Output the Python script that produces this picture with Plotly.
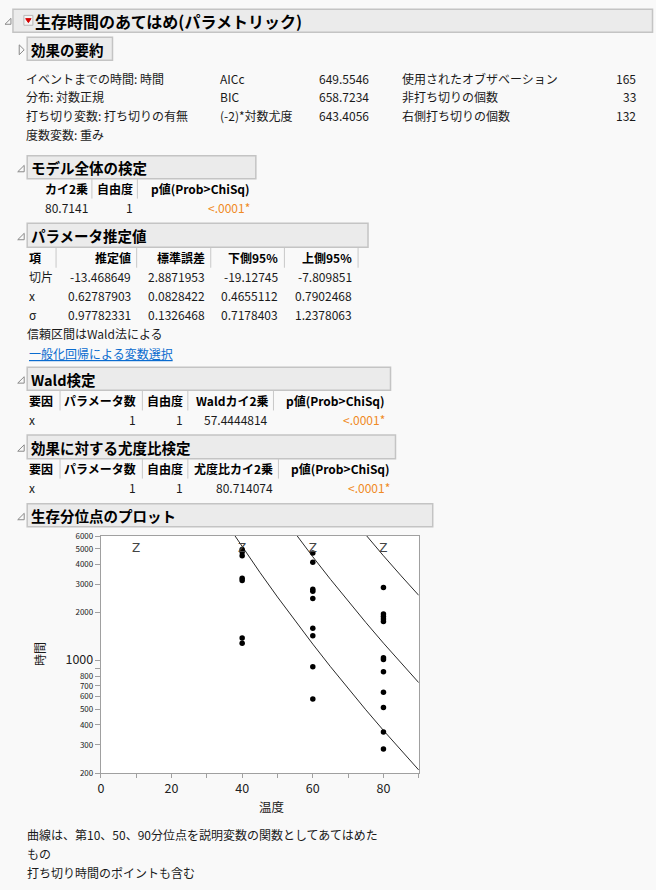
import math
import plotly.graph_objects as go

W, H = 656, 890
FONT = "Noto Sans CJK JP"

# ---- 効果の要約
summary_labels = ["イベントまでの時間: 時間", "分布: 対数正規", "打ち切り変数: 打ち切りの有無", "度数変数: 重み"]
fit_stat_names = ["AICc", "BIC", "(-2)*対数尤度"]
fit_stat_values = ["649.5546", "658.7234", "643.4056"]
count_names = ["使用されたオブザベーション", "非打ち切りの個数", "右側打ち切りの個数"]
count_values = ["165", "33", "132"]

# ---- モデル全体の検定
whole_cols = ["カイ2乗", "自由度", "p値(Prob>ChiSq)"]
whole_row = ["80.7141", "1", "<.0001*"]

# ---- パラメータ推定値
param_cols = ["項", "推定値", "標準誤差", "下側95%", "上側95%"]
param_terms = ["切片", "x", "σ"]
param_est = ["-13.468649", "0.62787903", "0.97782331"]
param_se = ["2.8871953", "0.0828422", "0.1326468"]
param_lo = ["-19.12745", "0.4655112", "0.7178403"]
param_hi = ["-7.809851", "0.7902468", "1.2378063"]

# ---- Wald検定 / 尤度比検定
wald_cols = ["要因", "パラメータ数", "自由度", "Waldカイ2乗", "p値(Prob>ChiSq)"]
wald_row = ["x", "1", "1", "57.4444814", "<.0001*"]
lr_cols = ["要因", "パラメータ数", "自由度", "尤度比カイ2乗", "p値(Prob>ChiSq)"]
lr_row = ["x", "1", "1", "80.714074", "<.0001*"]

# ---- 生存分位点のプロット
obs_temp = [40, 40, 40, 40, 40, 40, 40,
            60, 60, 60, 60, 60, 60, 60, 60, 60,
            80, 80, 80, 80, 80, 80, 80, 80, 80, 80, 80, 80]
obs_time = [4950, 4780, 4520, 3280, 3170, 1390, 1290,
            4700, 4120, 2800, 2720, 2450, 1600, 1435, 920, 580,
            2870, 1960, 1890, 1825, 1760, 1045, 1020, 855, 637, 513, 361, 283]
cens_temp = [10, 40, 60, 80]
cens_time = [5000, 5000, 5000, 5000]

q10_temp = [35, 40, 45, 50, 55, 60, 65, 70, 75, 80, 85, 90]
q10_time = [7505, 5145, 3569, 2504, 1776, 1273, 921, 673, 496, 369, 277, 209]
q50_temp = [50, 55, 60, 65, 70, 75, 80, 85, 90]
q50_time = [8768, 6219, 4456, 3225, 2356, 1737, 1291, 968, 732]
q90_temp = [70, 75, 80, 85, 90]
q90_time = [8249, 6081, 4522, 3390, 2562]

y_tick_vals = [200, 300, 400, 500, 600, 700, 800, 900, 1000, 2000, 3000, 4000, 5000, 6000]
x_tick_vals = [0, 10, 20, 30, 40, 50, 60, 70, 80, 90]

footnotes = ["曲線は、第10、50、90分位点を説明変数の関数としてあてはめた", "もの", "打ち切り時間のポイントも含む"]


def X(px):
    return px / W


def Y(py):
    return 1 - py / H


annotations = []
shapes = []


def text(x, y, s, size=12, anchor="left", bold=False, color="#1a1a1a"):
    if bold:
        s = "<b>" + s + "</b>"
    annotations.append(dict(x=X(x), y=Y(y), xref="paper", yref="paper", text=s,
                            showarrow=False, xanchor=anchor, yanchor="middle",
                            borderpad=0, font=dict(size=size, color=color, family=FONT)))


def rect(x0, y0, x1, y1, fill, line, lw=1.5):
    shapes.append(dict(type="rect", xref="paper", yref="paper",
                       x0=X(x0), y0=Y(y1), x1=X(x1), y1=Y(y0),
                       fillcolor=fill, line=dict(color=line, width=lw)))


def poly(pts, line, fill=None):
    d = "M " + " L ".join(f"{X(a):.5f},{Y(b):.5f}" for a, b in pts) + " Z"
    shapes.append(dict(type="path", xref="paper", yref="paper", path=d,
                       line=dict(color=line, width=1), fillcolor=fill))


def vline(x, y0, y1, color="#c8c8c8"):
    shapes.append(dict(type="line", xref="paper", yref="paper",
                       x0=X(x), x1=X(x), y0=Y(y0), y1=Y(y1),
                       line=dict(color=color, width=1)))


def section(x0, y0, x1, y1, title, size=14.5, open_tri=True):
    rect(x0, y0, x1, y1, "#ebebeb", "#c4c4c4")
    text(x0 + 2.5, (y0 + y1) / 2 + 0.5, title, size=size, bold=True, color="#000")
    cy = (y0 + y1) / 2 + 1
    if open_tri:
        poly([(x0 - 9.5, cy + 3.5), (x0 - 3, cy + 3.5), (x0 - 3, cy - 3)], "#8a8a8a")
    else:
        poly([(x0 - 8, cy - 5), (x0 - 3, cy), (x0 - 8, cy + 5)], "#8a8a8a")


def table(cols, xs, anchors, seps, y_head, rows, y_rows, colors=None):
    for c, x, a in zip(cols, xs, anchors):
        text(x, y_head, c, bold=True, color="#000")
        annotations[-1]["xanchor"] = a
    for sx in seps:
        vline(sx, y_head - 10, y_head + 10)
    for r, yy in zip(rows, y_rows):
        for i, (v, x, a) in enumerate(zip(r, xs, anchors)):
            col = colors[i] if colors else "#1a1a1a"
            text(x, yy, v, anchor=a, color=col)


ORANGE = "#f08a24"

# main header
rect(10, 3.3, 652.5, 26.7, "#ebebeb", "#c4c4c4")
text(31.5, 15.5, "生存時間のあてはめ(パラメトリック)", size=16, bold=True, color="#000")
poly([(2, 18.5), (8, 18.5), (8, 12.5)], "#8a8a8a")
rect(21, 9.5, 30, 19.5, "#f4f4f4", "#b8b8b8", lw=1)
poly([(22.8, 12.8), (28.2, 12.8), (25.5, 16.8)], "#d40000", "#d40000")

# 効果の要約
section(24.3, 31.7, 110, 55, "効果の要約", open_tri=False)
sum_y = [73, 92, 111, 130]
for s, yy in zip(summary_labels, sum_y):
    text(22, yy, s)
for a, b, yy in zip(fit_stat_names, fit_stat_values, sum_y):
    text(217, yy, a)
    text(369, yy, b, anchor="right")
for a, b, yy in zip(count_names, count_values, sum_y):
    text(400, yy, a)
    text(637, yy, b, anchor="right")

# モデル全体の検定
section(24.3, 151.7, 254, 175, "モデル全体の検定")
table(whole_cols, [86, 131.5, 249.5], ["right", "right", "right"], [89.3, 135],
      185, [whole_row], [204.5], colors=["#1a1a1a", "#1a1a1a", ORANGE])

# パラメータ推定値
section(24.3, 220, 366.7, 244.3, "パラメータ推定値")
param_rows = [list(r) for r in zip(param_terms, param_est, param_se, param_lo, param_hi)]
table(param_cols, [25.5, 130, 204, 277.7, 351.7], ["left", "right", "right", "right", "right"],
      [53.3, 134.3, 208.7, 282.7, 356.7], 255, param_rows, [274, 293, 312])
text(23.3, 331.7, "信頼区間はWald法による")
text(25, 352.3, "<u>一般化回帰による変数選択</u>", color="#0a6ccf")

# Wald検定
section(24.3, 365.7, 389.3, 389, "Wald検定")
table(wald_cols, [25.5, 135, 181.7, 267.7, 385], ["left", "right", "right", "right", "right"],
      [57.3, 140, 185.7, 271.7], 399.5, [wald_row], [418.5],
      colors=["#1a1a1a"] * 4 + [ORANGE])

# 効果に対する尤度比検定
section(24.3, 434.3, 394.3, 458.3, "効果に対する尤度比検定")
table(lr_cols, [25.5, 135, 181.7, 272.3, 390], ["left", "right", "right", "right", "right"],
      [57.3, 140, 185.7, 276.7], 468.5, [lr_row], [487.7],
      colors=["#1a1a1a"] * 4 + [ORANGE])

# 生存分位点のプロット
section(24.3, 504, 431.7, 527.3, "生存分位点のプロット")
text(256, 810.7, "温度", size=12.5)
annotations.append(dict(x=X(36.7), y=Y(656.7), xref="paper", yref="paper", text="時間",
                        textangle=-90, showarrow=False, xanchor="center", yanchor="middle",
                        font=dict(size=12, color="#1a1a1a", family=FONT)))

for i, s in enumerate(footnotes):
    text(23.3, 839.3 + 19 * i, s)

fig = go.Figure()
for qt, qy in [(q10_temp, q10_time), (q50_temp, q50_time), (q90_temp, q90_time)]:
    fig.add_trace(go.Scatter(x=qt, y=qy, mode="lines", line=dict(color="#2a2a2a", width=1),
                             hoverinfo="skip", showlegend=False))
fig.add_trace(go.Scatter(x=obs_temp, y=obs_time, mode="markers",
                         marker=dict(color="#000", size=5.5), showlegend=False))
fig.add_trace(go.Scatter(x=cens_temp, y=cens_time, mode="text", text=["Z"] * len(cens_temp),
                         textfont=dict(size=12, color="#444", family="DejaVu Sans"),
                         textposition="middle center", showlegend=False))

y_tick_text = []
for v in y_tick_vals:
    if v == 900:
        y_tick_text.append("")
    elif v == 1000:
        y_tick_text.append('<span style="font-size:12.5px">1000</span>')
    else:
        y_tick_text.append(str(v))

fig.update_layout(
    width=W, height=H,
    margin=dict(l=0, r=0, t=0, b=0),
    paper_bgcolor="#f9f9f9",
    plot_bgcolor="#ffffff",
    showlegend=False,
    annotations=annotations,
    shapes=shapes,
    xaxis=dict(domain=[X(98.3), X(417.7)], range=[0, 90],
               tickvals=x_tick_vals,
               ticktext=[str(v) if v % 20 == 0 else "" for v in x_tick_vals],
               ticks="outside", ticklen=4, tickcolor="#a0a0a0",
               showline=True, linecolor="#a0a0a0", mirror=True,
               showgrid=False, zeroline=False,
               tickfont=dict(size=12.5, color="#222", family=FONT)),
    yaxis=dict(domain=[Y(776.7), Y(536.7)], type="log",
               range=[math.log10(200), math.log10(6000)],
               tickvals=y_tick_vals, ticktext=y_tick_text,
               ticks="outside", ticklen=5, tickcolor="#a0a0a0",
               showline=True, linecolor="#a0a0a0", mirror=True,
               showgrid=False, zeroline=False,
               tickfont=dict(size=8, color="#222", family=FONT)),
)

fig.write_html("out.html", config={"displayModeBar": False},
               post_script="document.body.style.margin='0';document.body.style.overflow='hidden';")
